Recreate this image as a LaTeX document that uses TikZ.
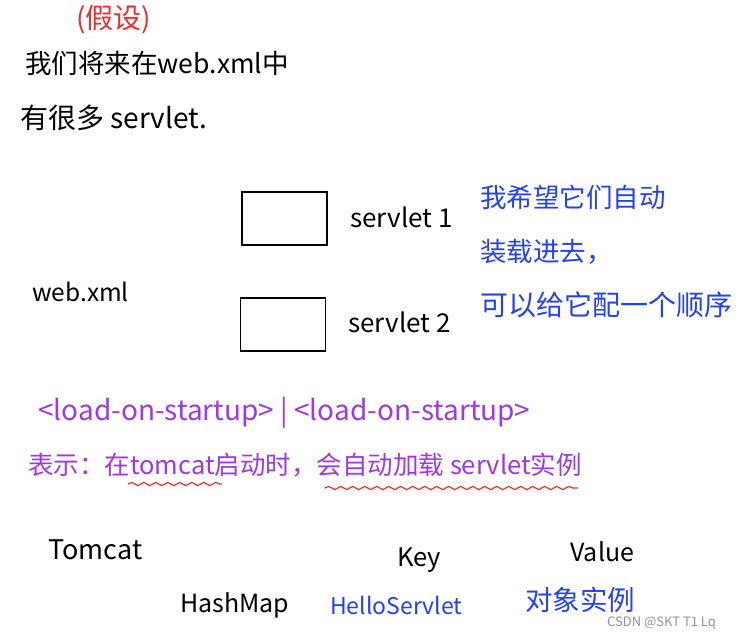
\documentclass[tikz,border=0pt]{standalone}
\usepackage{fontspec}
\setmainfont{Noto Sans CJK SC}
\usetikzlibrary{decorations.pathmorphing}
\definecolor{hred}{RGB}{240,45,45}
\definecolor{hblue}{RGB}{35,65,240}
\definecolor{hpurple}{RGB}{160,55,230}
\definecolor{hgray}{RGB}{150,150,150}
\newcommand{\fsz}[1]{\fontsize{#1}{#1}\selectfont}
\tikzset{
  txt/.style={inner sep=0pt, anchor=west, font=\fsz{26}},
  btxt/.style={txt, text=black},
  bluetxt/.style={txt, text=hblue},
  purptxt/.style={txt, text=hpurple},
  slot/.style={draw, line width=1.3pt, minimum width=85pt, minimum height=53pt, inner sep=0pt},
  wavy/.style={draw=hred, line width=1.2pt, decorate, decoration={snake, amplitude=1.6pt, segment length=12pt}}
}
\begin{document}
\begin{tikzpicture}[x=1pt,y=-1pt]
\useasboundingbox[fill=white] (0,0) rectangle (747,640);
\node[txt, text=hred, font=\fsz{28}] (assume) at (76,20) {(假设)};
\node[btxt, font=\fsz{26.5}] (l1) at (25,63) {我们将来在web.xml中};
\node[btxt, font=\fsz{28}] (l2) at (20,118) {有很多 servlet.};
\node[slot] (box1) at (284.5,218.5) {};
\node[slot] (box2) at (283,324.5) {};
\node[btxt] (s1) at (350,217) {servlet 1};
\node[btxt] (s2) at (348,322) {servlet 2};
\node[btxt, font=\fsz{24.5}] (web) at (32,292) {web.xml};
\node[bluetxt, font=\fsz{26.5}] (b1) at (480,197) {我希望它们自动};
\node[bluetxt, font=\fsz{26.5}] (b2) at (480,252) {装载进去，};
\node[bluetxt, font=\fsz{28}] (b3) at (480,305) {可以给它配一个顺序};
\node[purptxt, font=\fsz{28}] (p1) at (38,413) {<load-on-startup> | <load-on-startup>};
\node[purptxt, font=\fsz{25.5}] (p2) at (28,465) {表示：在tomcat启动时，会自动加载 servlet实例};
\draw[wavy] (128,484) -- (222,484);
\draw[wavy] (325,488) -- (578,488);
\node[btxt, font=\fsz{27}] (tomcat) at (48,550) {Tomcat};
\node[btxt, font=\fsz{25.5}] (key) at (397,560) {Key};
\node[btxt, font=\fsz{25}] (value) at (570,552) {Value};
\node[btxt, font=\fsz{25}] (hash) at (180,605) {HashMap};
\node[bluetxt, font=\fsz{23}] (hello) at (330,605) {HelloServlet};
\node[bluetxt, font=\fsz{27.5}] (obj) at (525,600) {对象实例};
\node[txt, text=hgray, font=\fsz{13}] (csdn) at (607,623) {CSDN @SKT T1 Lq};
\end{tikzpicture}
\end{document}
